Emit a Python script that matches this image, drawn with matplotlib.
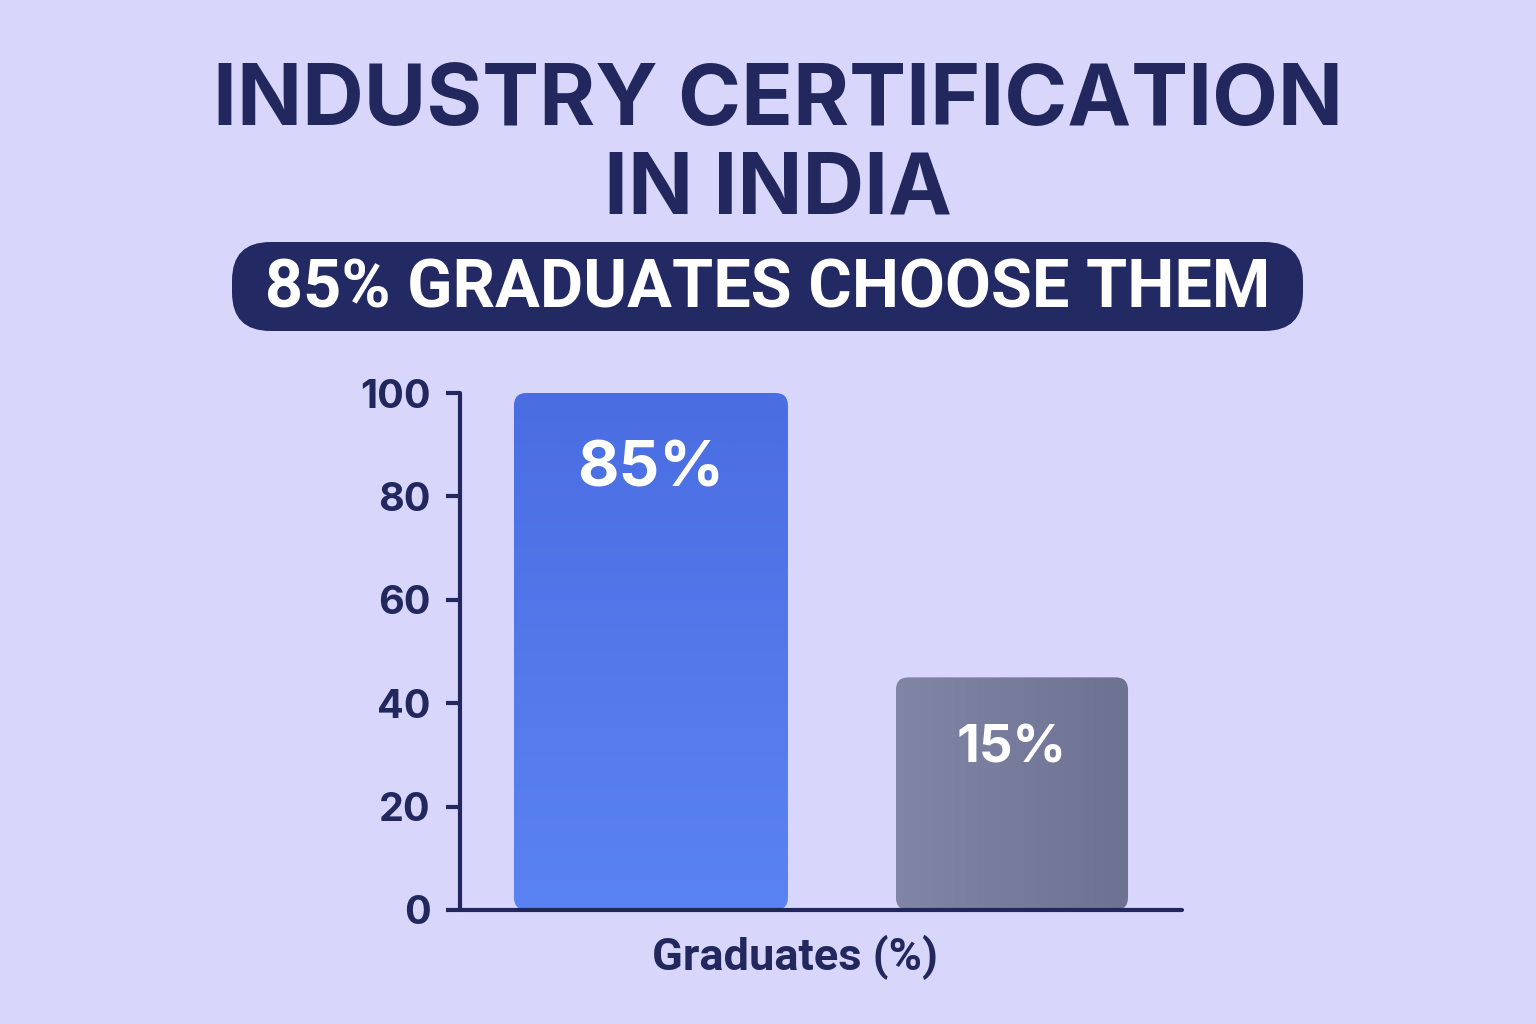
import matplotlib
matplotlib.use("Agg")
import matplotlib.pyplot as plt
import numpy as np
from matplotlib.patches import FancyBboxPatch
from matplotlib.colors import LinearSegmentedColormap

# ---- data ----
categories = ["Certified", "Not certified"]
bar_heights = [100, 45]          # bar heights as drawn on the axis
bar_labels = ["85%", "15%"]      # printed labels
yticks = [0, 20, 40, 60, 80, 100]
title_lines = ["INDUSTRY CERTIFICATION", "IN INDIA"]
badge_text = "85% GRADUATES CHOOSE THEM"
xlabel = "Graduates (%)"

BG = "#D8D6FB"
NAVY = "#22285E"
FONT = ["Inter", "Roboto", "DejaVu Sans"]
FONT2 = ["Roboto", "DejaVu Sans"]

fig = plt.figure(figsize=(15.36, 10.24), dpi=100, facecolor=BG)

# Title
tx = 778 / 1536
fig.text(tx, 1 - 103 / 1024, title_lines[0], ha="center", va="center",
         fontsize=61.5, fontweight="bold", color=NAVY, family=FONT)
fig.text(tx, 1 - 191 / 1024, title_lines[1], ha="center", va="center",
         fontsize=61.5, fontweight="bold", color=NAVY, family=FONT)

# Badge
bx0, bx1, by0, by1 = 232 / 1536, 1303 / 1536, 1 - 331 / 1024, 1 - 242 / 1024
badge = FancyBboxPatch((bx0, by0), bx1 - bx0, by1 - by0,
                       boxstyle="round,pad=0,rounding_size=0.025",
                       transform=fig.transFigure, facecolor="#232A63",
                       edgecolor="none", mutation_aspect=1.5)
fig.patches.append(badge)
fig.text(768 / 1536, 1 - 290 / 1024, badge_text, ha="center", va="center",
         fontsize=48, fontweight="bold", color="white", family=FONT2)

# Axes
ax = fig.add_axes([460 / 1536, 1 - 910 / 1024, (1182 - 460) / 1536, (910 - 393) / 1024])
ax.set_facecolor("none")
x = np.arange(len(categories))
widths = [0.759, 0.643]
bars = ax.bar(x, bar_heights, width=widths, color="none", edgecolor="none")
ax.set_xlim(-0.529, 1.471)
ax.set_ylim(0, 100)

grads = [
    (np.linspace(0, 1, 256)[:, None] * np.ones((1, 2)), ["#4A6EE2", "#5B82F2"]),
    (np.ones((2, 1)) * np.linspace(0, 1, 256)[None, :], ["#8286A6", "#6E7292"]),
]
for b, (arr, cols) in zip(bars, grads):
    x0, y0, w, h = b.get_x(), b.get_y(), b.get_width(), b.get_height()
    patch = FancyBboxPatch((x0, y0), w, h,
                           boxstyle="round,pad=0,rounding_size=0.035",
                           mutation_aspect=100 / 2 * (722 / 517),
                           facecolor="none", edgecolor="none")
    ax.add_patch(patch)
    cmap = LinearSegmentedColormap.from_list("g", cols)
    im = ax.imshow(arr, extent=(x0, x0 + w, y0, y0 + h), origin="upper",
                   cmap=cmap, aspect="auto", zorder=1, interpolation="bicubic")
    im.set_clip_path(patch)

# labels
ax.text(x[0], 85.2, bar_labels[0], ha="center", va="center", color="white",
        fontsize=46, fontweight="bold", family=FONT, zorder=3)
ax.text(x[1], 31.2, bar_labels[1], ha="center", va="center", color="white",
        fontsize=38, fontweight="bold", family=FONT, zorder=3)

ax.set_xlim(-0.529, 1.471)
ax.set_ylim(0, 100)
ax.set_yticks(yticks)
ax.set_yticklabels([str(t) for t in yticks], fontsize=28.5, fontweight="bold",
                   color=NAVY, family=FONT)
ax.set_xticks([])
for s in ["top", "right"]:
    ax.spines[s].set_visible(False)
for s in ["left", "bottom"]:
    ax.spines[s].set_color(NAVY)
    ax.spines[s].set_linewidth(3)
    ax.spines[s].set_capstyle("round")
ax.spines["bottom"].set_zorder(4)
ax.tick_params(axis="y", length=10, width=3, color=NAVY, pad=11)
ax.set_xlabel(xlabel, fontsize=32.5, fontweight="bold", color=NAVY, family=FONT2)
ax.xaxis.set_label_coords((795 - 460) / 722, -(957 - 910) / 517, transform=ax.transAxes)
ax.xaxis.label.set_va("center")

fig.savefig("out.png", dpi=100, facecolor=BG)
